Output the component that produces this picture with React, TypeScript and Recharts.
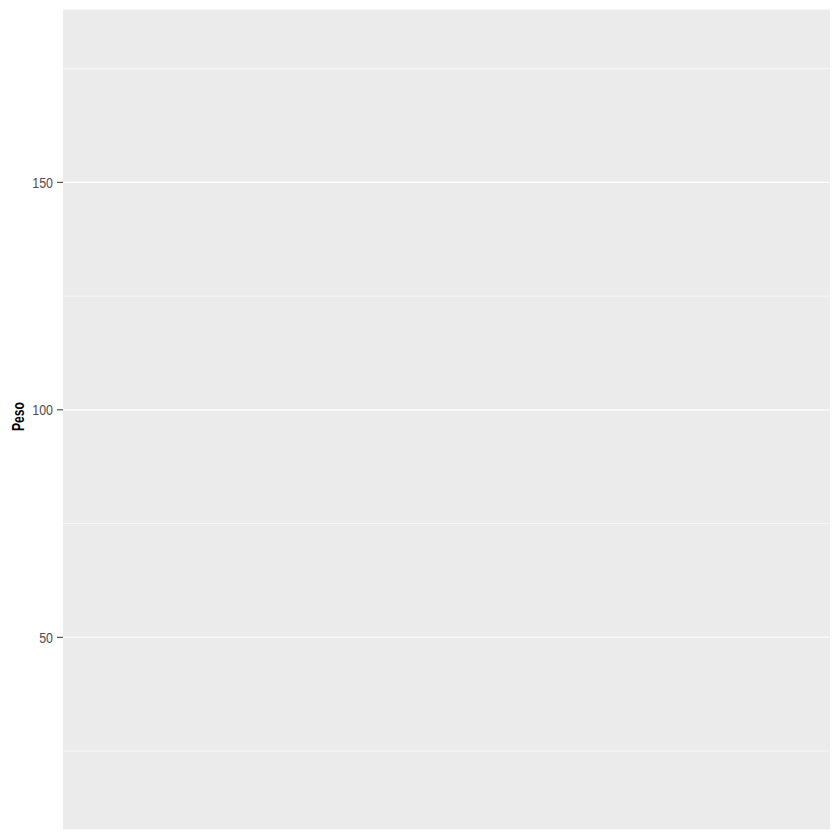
import React from "react";
import { ComposedChart, XAxis, YAxis, CartesianGrid, Label } from "recharts";

const categories = [0, 1];
const data = categories.map((x) => ({ x }));
const yTicks = [50, 100, 150];
const minorTicks = [25, 75, 125, 175];
const yDomain = [7.65, 188.1];
const yLabel = "Peso";

const FONT = "'Liberation Sans', Arial, sans-serif";

function YTick(props: any) {
  const { x, y, payload } = props;
  const s = String(payload.value);
  return (
    <text
      x={x}
      y={y}
      dy="0.36em"
      textAnchor="end"
      fill="#4D4D4D"
      fontSize={15}
      fontFamily={FONT}
      textLength={s.length * 6.9}
      lengthAdjust="spacingAndGlyphs"
    >
      {s}
    </text>
  );
}

function YLabel(props: any) {
  const vb = props.viewBox || { x: 0, y: 0, width: 0, height: 0 };
  const cx = vb.x + 10;
  const cy = vb.y + vb.height / 2 - 3;
  return (
    <text
      x={cx}
      y={cy}
      transform={`rotate(-90 ${cx} ${cy})`}
      textAnchor="middle"
      dy="0.36em"
      fill="#000"
      fontSize={16}
      fontWeight="bold"
      fontFamily={FONT}
      textLength={29}
      lengthAdjust="spacingAndGlyphs"
    >
      {yLabel}
    </text>
  );
}

export default function App() {
  return (
    <div style={{ position: "fixed", left: 0, top: 0, width: 840, height: 840, background: "#fff" }}>
      <ComposedChart width={840} height={840} data={data} margin={{ top: 9, right: 10, bottom: 10, left: 8 }}>
        <CartesianGrid fill="#EBEBEB" stroke="#FFFFFF" strokeWidth={0.7} vertical={false} yAxisId="minor" />
        <CartesianGrid stroke="#FFFFFF" strokeWidth={1.1} vertical={false} yAxisId="main" />
        <XAxis dataKey="x" type="number" domain={[0, 1]} hide />
        <YAxis yAxisId="minor" type="number" domain={yDomain} ticks={minorTicks} allowDataOverflow hide />
        <YAxis
          yAxisId="main"
          type="number"
          domain={yDomain}
          ticks={yTicks}
          allowDataOverflow
          width={55}
          axisLine={false}
          tickLine={{ stroke: "#333333", strokeWidth: 1 }}
          tickSize={6}
          tickMargin={4}
          tick={<YTick />}
        >
          <Label content={<YLabel />} />
        </YAxis>
      </ComposedChart>
    </div>
  );
}
